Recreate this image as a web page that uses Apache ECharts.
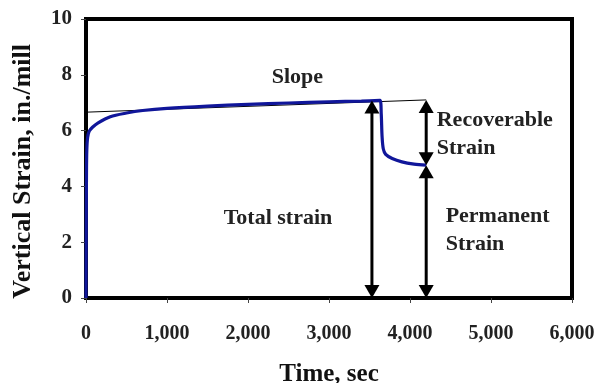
<!DOCTYPE html>
<html>
<head>
<meta charset="utf-8">
<script src="https://cdn.jsdelivr.net/npm/echarts@6/dist/echarts.min.js"></script>
<style>
  html, body { margin: 0; padding: 0; background: #fff; }
  #chart { width: 600px; height: 383px; }
</style>
</head>
<body>
<div id="chart"></div>
<script>
// Creep test: vertical strain vs. time (loading then unloading)
const strainCurve = [
  [0, 0], [3, 2.5], [6, 4.5], [10, 5.3], [20, 5.75], [40, 5.98], [80, 6.12],
  [150, 6.28], [300, 6.5], [500, 6.63], [700, 6.72], [1000, 6.8],
  [1500, 6.88], [2000, 6.94], [2500, 6.99], [3000, 7.03], [3400, 7.06],
  [3630, 7.08], [3645, 6.6], [3655, 5.8], [3670, 5.35], [3700, 5.15],
  [3780, 5.0], [3900, 4.88], [4050, 4.8], [4200, 4.76]
];
// Linear trend of the secondary creep stage
const slopeLine = [[0, 6.66], [4200, 7.1]];
// Double-headed dimension arrows: [time, from strain, to strain]
const arrows = [[3530, 0, 7.08], [4200, 4.76, 7.1], [4200, 0, 4.76]];
// Annotation texts: [text, time, strain, alignment]
const notes = [
  ['Slope', 2610, 7.9, 'center'],
  ['Total strain', 2370, 2.85, 'center'],
  ['Recoverable', 4330, 6.38, 'left'],
  ['Strain', 4330, 5.38, 'left'],
  ['Permanent', 4440, 2.93, 'left'],
  ['Strain', 4440, 1.93, 'left']
];
const xTicks = [0, 1000, 2000, 3000, 4000, 5000, 6000];
const yTicks = [0, 2, 4, 6, 8, 10];

const FONT = 'Liberation Serif';
const chart = echarts.init(document.getElementById('chart'));

chart.setOption({
  animation: false,
  grid: {
    left: 86, right: 28, top: 19, bottom: 85,
    outerBoundsMode: 'none', containLabel: false,
    show: true, borderColor: '#000', borderWidth: 4
  },
  xAxis: {
    type: 'value', min: xTicks[0], max: xTicks[xTicks.length - 1], interval: 1000,
    name: 'Time, sec', nameLocation: 'middle', nameGap: 64,
    nameTextStyle: { fontFamily: FONT, fontWeight: 'bold', fontSize: 25, color: '#111' },
    axisLine: { lineStyle: { color: '#000', width: 4 } },
    axisTick: { show: true, length: 5, lineStyle: { color: '#444', width: 1 } },
    axisLabel: {
      margin: 26, fontFamily: FONT, fontWeight: 'bold', fontSize: 20, color: '#222',
      formatter: v => v.toLocaleString('en-US')
    },
    splitLine: { show: false }
  },
  yAxis: {
    type: 'value', min: yTicks[0], max: yTicks[yTicks.length - 1], interval: 2,
    axisLine: { show: true, lineStyle: { color: '#000', width: 4 } },
    axisTick: { show: true, length: 5, lineStyle: { color: '#444', width: 1 } },
    axisLabel: { margin: 14, fontFamily: FONT, fontWeight: 'bold', fontSize: 21, color: '#222' },
    splitLine: { show: false }
  },
  graphic: [{
    type: 'text', left: 10, top: 44, rotation: Math.PI / 2,
    style: {
      text: 'Vertical Strain, in./mill',
      font: 'bold 26px "Liberation Serif"', fill: '#111'
    }
  }],
  series: [
    {
      type: 'line', data: slopeLine, showSymbol: false, z: 3,
      lineStyle: { color: '#000', width: 1 }
    },
    {
      type: 'line', data: strainCurve, showSymbol: false, smooth: 0.3, z: 4,
      lineStyle: { color: '#10169a', width: 3.2 }
    },
    {
      type: 'custom', data: arrows, z: 5,
      renderItem: (params, api) => {
        const t = api.value(0);
        const p0 = api.coord([t, api.value(1)]);
        const p1 = api.coord([t, api.value(2)]);
        const hw = 7.5, hh = 13;
        return {
          type: 'group',
          children: [
            { type: 'line', shape: { x1: p0[0], y1: p0[1] - hh + 2, x2: p1[0], y2: p1[1] + hh - 2 },
              style: { stroke: '#000', lineWidth: 3 } },
            { type: 'polygon', shape: { points: [[p0[0], p0[1]], [p0[0] - hw, p0[1] - hh], [p0[0] + hw, p0[1] - hh]] },
              style: { fill: '#000' } },
            { type: 'polygon', shape: { points: [[p1[0], p1[1]], [p1[0] - hw, p1[1] + hh], [p1[0] + hw, p1[1] + hh]] },
              style: { fill: '#000' } }
          ]
        };
      }
    },
    {
      type: 'custom', data: notes.map(n => [n[1], n[2], n[0], n[3]]), z: 6,
      renderItem: (params, api) => {
        const n = notes[params.dataIndex];
        const p = api.coord([n[1], n[2]]);
        return {
          type: 'text', x: p[0], y: p[1],
          style: {
            text: n[0], align: n[3], verticalAlign: 'middle',
            font: 'bold 22px "Liberation Serif"', fill: '#222'
          }
        };
      }
    }
  ]
});
</script>
</body>
</html>
